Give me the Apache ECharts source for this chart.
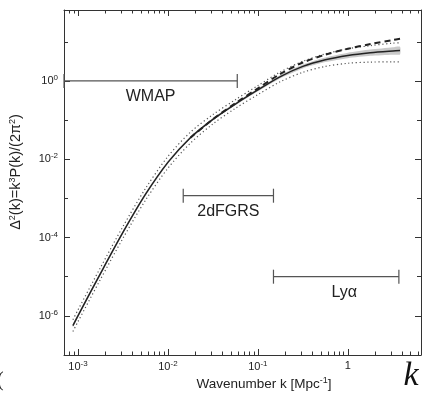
<!DOCTYPE html>
<html><head><meta charset="utf-8">
<script src="https://cdn.jsdelivr.net/npm/echarts@6/dist/echarts.min.js"></script>
<style>html,body{margin:0;padding:0;background:#fff}#c{width:422px;height:395px}</style>
</head><body><div id="c"></div>
<script>
// Wavenumber samples k [Mpc^-1]
const kVals = [8.79e-4, 1.0e-3, 1.778e-3, 3.162e-3, 5.623e-3, 1.0e-2, 1.778e-2, 3.162e-2, 5.623e-2, 0.1, 0.1778, 0.3162, 0.5623, 1.0, 1.778, 3.162, 3.80];
// Delta^2(k) curves
const mainVals      = [5.62e-7, 1.0e-6, 1.20e-5, 1.349e-4, 1.259e-3, 8.318e-3, 0.03548, 0.1047, 0.2570, 0.589, 1.288, 2.344, 3.467, 4.467, 5.248, 5.821, 5.957];
const upperDotVals  = [7.94e-7, 1.41e-6, 1.70e-5, 1.905e-4, 1.778e-3, 0.01175, 0.0490, 0.1380, 0.3311, 0.759, 1.698, 3.162, 4.898, 6.607, 7.943, 9.226, 9.441];
const lowerDotVals  = [3.98e-7, 7.08e-7, 8.51e-6, 9.55e-5, 8.91e-4, 5.89e-3, 0.0257, 0.0794, 0.1995, 0.447, 0.955, 1.660, 2.344, 2.818, 3.020, 3.055, 3.055];
const bandHighVals  = [6.17e-7, 1.096e-6, 1.318e-5, 1.479e-4, 1.380e-3, 9.02e-3, 0.0380, 0.1122, 0.2754, 0.6383, 1.413, 2.630, 3.981, 5.248, 6.310, 7.244, 7.499];
const bandLowVals   = [5.13e-7, 9.12e-7, 1.096e-5, 1.230e-4, 1.148e-3, 7.67e-3, 0.0331, 0.0977, 0.2399, 0.5433, 1.175, 2.089, 3.020, 3.802, 4.365, 4.677, 4.732];
const dashK    = [1.778e-2, 3.162e-2, 5.623e-2, 0.1, 0.1778, 0.3162, 0.5623, 1.0, 1.778, 3.162, 3.80];
const dashVals = [0.03548, 0.1047, 0.269, 0.646, 1.514, 2.951, 4.677, 6.607, 8.710, 11.09, 11.89];
// Measurement ranges
const rangeNames  = ['WMAP', '2dFGRS', 'Ly\u03b1'];
const rangeKStart = [7.0e-4, 0.0148, 0.149];
const rangeKEnd   = [0.059, 0.149, 3.69];
const rangeLevel  = [1.0, 1.17e-3, 1.0e-5];
// Axis ticks
const xMajorTicks = [1e-3, 1e-2, 1e-1, 1];
const xMinorTicks = [8e-4, 9e-4, 2e-3, 3e-3, 4e-3, 5e-3, 6e-3, 7e-3, 8e-3, 9e-3, 2e-2, 3e-2, 4e-2, 5e-2, 6e-2, 7e-2, 8e-2, 9e-2, 0.2, 0.3, 0.4, 0.5, 0.6, 0.7, 0.8, 0.9, 2, 3, 4, 5, 6];
const yMajorTicks = [1e-6, 1e-4, 1e-2, 1];
const yMinorTicks = [1e-5, 1e-3, 1e-1, 10];
const xMin = 7.0e-4, xMax = 6.5, yMin = 1e-7, yMax = 64.7;

const FONT = '"Liberation Sans", Arial, Helvetica, sans-serif';
const rich = {
  b: {fontSize: 11, fontFamily: FONT, color: '#222'},
  s: {fontSize: 8, fontFamily: FONT, color: '#222', padding: [0, 0, 6, 0]}
};
function powLabel(v, isX) {
  const e = Math.round(Math.log10(v));
  if (isX && e === 0) return '{b|1}';
  return '{b|10}{s|' + (e < 0 ? '-' : '') + Math.abs(e) + '}';
}
function xAxisDef(pos, ticks, len, withLine, withLabel) {
  return {
    type: 'log', logBase: 10, min: xMin, max: xMax, position: pos, gridIndex: 0,
    axisLine: {show: withLine, lineStyle: {color: '#333', width: 1}},
    axisTick: {show: true, inside: true, length: len, customValues: ticks, lineStyle: {color: '#333', width: 1}},
    axisLabel: withLabel ? {show: true, customValues: ticks, margin: 5, formatter: v => powLabel(v, true), rich: rich} : {show: false},
    splitLine: {show: false}, minorTick: {show: false}
  };
}
function yAxisDef(pos, ticks, len, withLine, withLabel) {
  return {
    type: 'log', logBase: 10, min: yMin, max: yMax, position: pos, gridIndex: 0,
    axisLine: {show: withLine, lineStyle: {color: '#333', width: 1}},
    axisTick: {show: true, inside: true, length: len, customValues: ticks, lineStyle: {color: '#333', width: 1}},
    axisLabel: withLabel ? {show: true, customValues: ticks, margin: 6, formatter: v => powLabel(v, false), rich: rich} : {show: false},
    splitLine: {show: false}, minorTick: {show: false}
  };
}

const chart = echarts.init(document.getElementById('c'), null, {renderer: 'canvas'});
const option = {
  animation: false,
  backgroundColor: '#fff',
  textStyle: {fontFamily: FONT},
  grid: {left: 64, right: 1, top: 10, bottom: 40, containLabel: false},
  xAxis: [
    xAxisDef('bottom', xMajorTicks, 6, true, true),
    xAxisDef('bottom', xMinorTicks, 3.5, false, false),
    xAxisDef('top', xMajorTicks, 6, true, false),
    xAxisDef('top', xMinorTicks, 3.5, false, false)
  ],
  yAxis: [
    yAxisDef('left', yMajorTicks, 6, true, true),
    yAxisDef('left', yMinorTicks, 4, false, false),
    yAxisDef('right', yMajorTicks, 6, true, false),
    yAxisDef('right', yMinorTicks, 4, false, false)
  ],
  series: [
    {
      type: 'custom', name: 'band', z: 1, silent: true,
      data: kVals.map((k, i) => [k, bandLowVals[i], bandHighVals[i]]),
      encode: {x: 0, y: [1, 2]},
      renderItem: function (params, api) {
        if (params.dataIndex !== 0) return null;
        const pts = [];
        for (let i = 0; i < kVals.length; i++) pts.push(api.coord([kVals[i], bandHighVals[i]]));
        for (let i = kVals.length - 1; i >= 0; i--) pts.push(api.coord([kVals[i], bandLowVals[i]]));
        return {type: 'polygon', shape: {points: pts, smooth: 0.2}, style: {fill: '#c9c9c9', stroke: null}};
      }
    },
    {
      type: 'line', name: 'upper', z: 2, showSymbol: false, smooth: 0.3,
      data: kVals.map((k, i) => [k, upperDotVals[i]]),
      lineStyle: {color: '#555', width: 1.2, type: [1.2, 2.6]}
    },
    {
      type: 'line', name: 'lower', z: 2, showSymbol: false, smooth: 0.3,
      data: kVals.map((k, i) => [k, lowerDotVals[i]]),
      lineStyle: {color: '#555', width: 1.2, type: [1.2, 2.6]}
    },
    {
      type: 'line', name: 'dashed', z: 3, showSymbol: false, smooth: 0.3,
      data: dashK.map((k, i) => [k, dashVals[i]]),
      lineStyle: {color: '#222', width: 2, type: [6, 4]}
    },
    {
      type: 'line', name: 'main', z: 4, showSymbol: false, smooth: 0.3,
      data: kVals.map((k, i) => [k, mainVals[i]]),
      lineStyle: {color: '#222', width: 1.5}
    },
    {
      type: 'custom', name: 'ranges', z: 5, silent: true,
      data: rangeNames.map((n, i) => [rangeKStart[i], rangeKEnd[i], rangeLevel[i]]),
      encode: {x: [0, 1], y: 2},
      renderItem: function (params, api) {
        const i = params.dataIndex;
        const p1 = api.coord([api.value(0), api.value(2)]);
        const p2 = api.coord([api.value(1), api.value(2)]);
        const h = 7;
        const st = {stroke: '#555', lineWidth: 1.2};
        return {type: 'group', children: [
          {type: 'line', shape: {x1: p1[0], y1: p1[1], x2: p2[0], y2: p2[1]}, style: st},
          {type: 'line', shape: {x1: p1[0], y1: p1[1] - h, x2: p1[0], y2: p1[1] + h}, style: st},
          {type: 'line', shape: {x1: p2[0], y1: p2[1] - h, x2: p2[0], y2: p2[1] + h}, style: st},
          {type: 'text', x: (p1[0] + p2[0]) / 2 + (i === 2 ? 8 : 0), y: p1[1] + 16,
           style: {text: rangeNames[i], fontSize: 16, fontFamily: FONT, fill: '#222', align: 'center', verticalAlign: 'middle'}}
        ]};
      }
    }
  ],
  graphic: [
    {type: 'text', x: 264, y: 384,
     style: {text: 'Wavenumber k [Mpc{s|-1}]', fontSize: 13.5, fontFamily: FONT, fill: '#222', align: 'center', verticalAlign: 'middle',
             rich: {s: {fontSize: 9, fontFamily: FONT, fill: '#222', padding: [0, 0, 7, 0]}}}},
    {type: 'text', x: 16, y: 172, rotation: Math.PI / 2,
     style: {text: '\u0394{s|2}(k)=k{s|3}P(k)/(2\u03c0{s|2})', fontSize: 14.5, fontFamily: FONT, fill: '#222', align: 'center', verticalAlign: 'middle',
             rich: {s: {fontSize: 9, fontFamily: FONT, fill: '#222', padding: [0, 0, 7, 0]}}}},
    {type: 'text', x: -3, y: 381,
     style: {text: '(', fontSize: 20, fontFamily: '"Liberation Serif", serif', fill: '#222', align: 'left', verticalAlign: 'middle'}},
    {type: 'text', x: 411, y: 376,
     style: {text: 'k', fontSize: 34, fontStyle: 'italic', fontFamily: '"Liberation Serif", "Times New Roman", serif', fill: '#111', align: 'center', verticalAlign: 'middle'}}
  ]
};
chart.setOption(option);
</script>
</body></html>
